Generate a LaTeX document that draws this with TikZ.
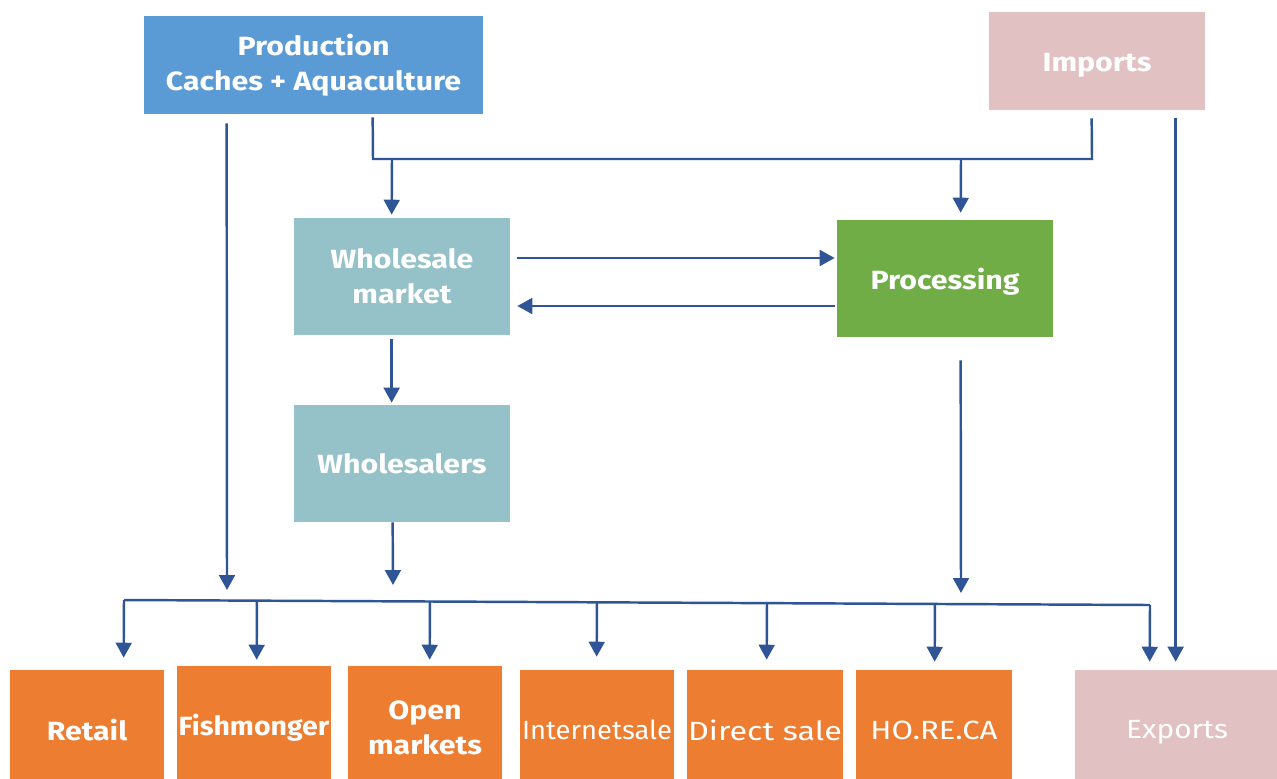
\documentclass[tikz,border=0pt]{standalone}
\usepackage{fontspec}
\setmainfont{Fira Sans}
\newfontfamily\boxfont[FakeStretch=1.15]{Fira Sans}
\newfontfamily\thinfont[FakeStretch=1.18]{Fira Sans}
\usetikzlibrary{arrows.meta,calc}
\definecolor{lineblue}{RGB}{47,85,151}
\definecolor{prodblue}{RGB}{91,155,213}
\definecolor{pinkish}{RGB}{226,193,194}
\definecolor{teal}{RGB}{149,193,200}
\definecolor{green}{RGB}{112,173,71}
\definecolor{orange}{RGB}{237,125,49}
\tikzset{
  box/.style={rectangle, inner sep=0pt, text=white, align=center,
    font=\boxfont\bfseries\fontsize{15}{20}\selectfont},
  thinbox/.style={rectangle, inner sep=0pt, text=white, align=center,
    font=\thinfont\fontsize{15}{20}\selectfont},
  conn/.style={draw=lineblue, line width=1.4pt},
  arr/.style={conn, -{Triangle[width=9pt,length=8.5pt]}},
}
\begin{document}
\begin{tikzpicture}[x=0.02cm,y=-0.02cm]
\clip (0,0) rectangle (1277,778);
\fill[white] (0,0) rectangle (1277,778);
% top row
\node[box, fill=prodblue, minimum width=339*0.02cm, minimum height=98*0.02cm] (prod) at (313.5,65) {Production\\Caches + Aquaculture};
\node[box, fill=pinkish, minimum width=216*0.02cm, minimum height=98*0.02cm, text height=12.1pt, text depth=0pt] (imp) at (1097,61) {Imports};
% middle
\node[box, fill=teal, minimum width=216*0.02cm, minimum height=117*0.02cm] (wm) at (402,276.5) {Wholesale\\market};
\node[box, fill=green, minimum width=216*0.02cm, minimum height=117*0.02cm, text height=12pt, text depth=0pt] (proc) at (945,278.5) {Processing};
\node[box, fill=teal, minimum width=216*0.02cm, minimum height=117*0.02cm] (ws) at (402,463.5) {Wholesalers};
% bottom row
\node[box, fill=orange, minimum width=154*0.02cm, minimum height=120*0.02cm] (retail) at (87,730) {Retail};
\node[box, fill=orange, minimum width=154*0.02cm, minimum height=124*0.02cm] (fish) at (254,728) {\scalebox{0.94}[1]{Fishmonger}};
\node[box, fill=orange, minimum width=154*0.02cm, minimum height=124*0.02cm] (open) at (425,728) {Open\\markets};
\node[thinbox, fill=orange, minimum width=154*0.02cm, minimum height=120*0.02cm] (inet) at (597,730) {\scalebox{0.88}[1]{Internetsale}};
\node[thinbox, fill=orange, minimum width=156*0.02cm, minimum height=120*0.02cm] (direct) at (765,730) {\scalebox{1.04}[1]{Direct sale}};
\node[thinbox, fill=orange, minimum width=156*0.02cm, minimum height=120*0.02cm] (horeca) at (934,730) {HO.RE.CA};
\node[thinbox, fill=pinkish, minimum width=204*0.02cm, minimum height=120*0.02cm, text height=9.5pt, text depth=0pt] (exp) at (1177,730) {\scalebox{0.96}[1]{Exports}};
% helper coordinates
\coordinate (jl) at (373,159);
\coordinate (jr) at (1092,159);
\coordinate (tA) at (392,159);
\coordinate (tB) at (961,159);
\coordinate (endL) at (227,590);
\coordinate (endWS) at (393,585);
\coordinate (endP) at (961,593);
\coordinate (bs) at (124,600);
\coordinate (be) at (1150,605);
% top connectors
\draw[arr] ($(prod.south west)+(83,9)$) -- (endL);
\draw[conn] ($(prod.south west)+(229,3)$) -- (jl) -- (jr) -- ($(imp.south west)+(103,8)$);
\draw[arr] (tA) -- ($(wm.north west)+(98,-3)$);
\draw[arr] (tB) -- ($(proc.north west)+(124,-7)$);
% between middle boxes
\draw[arr] ($(wm.east)+(7,-18.5)$) -- ($(proc.west)+(-2,-20.5)$);
\draw[arr] ($(proc.west)+(-2,27.5)$) -- ($(wm.east)+(7,29.5)$);
\draw[arr] ($(wm.south west)+(98,4)$) -- ($(ws.north west)+(98,-2)$);
\draw[arr] ($(ws.south west)+(99,0)$) -- (endWS);
\draw[arr] ($(proc.south west)+(124,23)$) -- (endP);
\draw[arr] ($(imp.south west)+(187,8)$) -- ($(exp.north west)+(101,-8)$);
% bottom bus
\draw[conn] (bs) -- (be);
\draw[arr] (bs) -- ($(retail.north west)+(114,-12)$);
\draw[arr] ($(bs)!0.1296!(be)$) -- ($(fish.north west)+(80,-6)$);
\draw[arr] ($(bs)!0.2982!(be)$) -- ($(open.north west)+(82,-6)$);
\draw[arr] ($(bs)!0.4610!(be)$) -- ($(inet.north west)+(77,-13)$);
\draw[arr] ($(bs)!0.6267!(be)$) -- ($(direct.north west)+(80,-10)$);
\draw[arr] ($(bs)!0.7904!(be)$) -- ($(horeca.north west)+(79,-8)$);
\draw[arr] (be) -- ($(exp.north west)+(75,-8)$);
\end{tikzpicture}
\end{document}
